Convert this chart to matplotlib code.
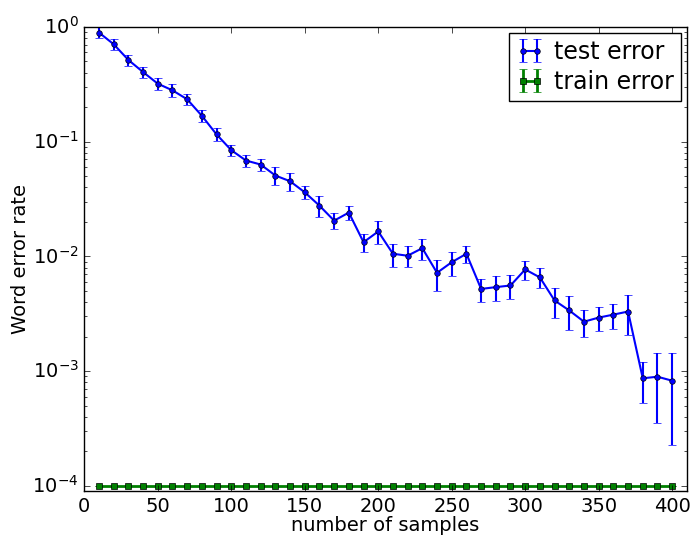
import numpy as np
import matplotlib
matplotlib.use("Agg")
import matplotlib.pyplot as plt

n_samples = list(range(10, 401, 10))

test_err = [0.892, 0.706, 0.515, 0.404, 0.320, 0.280, 0.234, 0.168, 0.1156, 0.0843,
            0.0685, 0.0632, 0.0507, 0.0452, 0.0362, 0.0277, 0.0205, 0.0241, 0.0133, 0.0165,
            0.01055, 0.01014, 0.0118, 0.0072, 0.0089, 0.01055, 0.00521, 0.0054, 0.00558, 0.0077,
            0.00656, 0.00413, 0.00338, 0.0027, 0.00293, 0.00311, 0.00331, 0.000867, 0.000895, 0.000826]
test_std = [0.098, 0.073, 0.058, 0.047, 0.039, 0.035, 0.025, 0.021, 0.015, 0.010,
            0.0078, 0.0078, 0.0090, 0.0083, 0.0048, 0.0056, 0.0033, 0.0034, 0.0024, 0.0037,
            0.0024, 0.0021, 0.0025, 0.0022, 0.0021, 0.0017, 0.0012, 0.0013, 0.0013, 0.0015,
            0.0013, 0.0012, 0.0011, 0.0007, 0.0007, 0.00077, 0.00126, 0.00034, 0.00054, 0.0006]

train_err = [1e-4] * len(n_samples)
train_std = [0.0] * len(n_samples)

plt.style.use("classic")
plt.rcParams["font.size"] = 14

fig = plt.figure(figsize=(6.91, 5.38), dpi=100, facecolor="white")
ax = fig.add_axes([0.122, 0.087, 0.872, 0.863])

ax.errorbar(n_samples, test_err, yerr=test_std, fmt="o-", color="b", ecolor="b",
            lw=1.5, ms=4, mec="k", capsize=3, label="test error")
ax.errorbar(n_samples, train_err, yerr=train_std, fmt="s-", color="g", ecolor="g",
            lw=2, ms=4, mec="k", capsize=3, label="train error")

ax.set_yscale("log")
ax.set_xlim(0, 410)
ax.set_ylim(9e-5, 1)
ax.set_xlabel("number of samples", labelpad=0)
ax.set_ylabel("Word error rate", labelpad=2)
ax.legend(loc="upper right", numpoints=2, fontsize=17, handlelength=1.2,
          borderpad=0.3, labelspacing=0.25, handletextpad=0.4, borderaxespad=0.25)

fig.savefig("out.png", dpi=100, facecolor="white")
